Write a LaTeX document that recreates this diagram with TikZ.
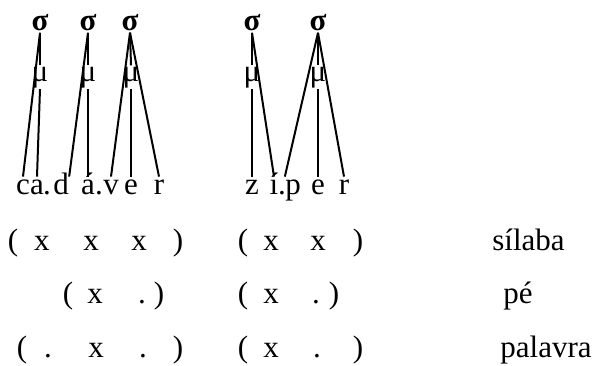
\documentclass[tikz,border=0pt]{standalone}
\usepackage{fontspec}
\setmainfont{Liberation Serif}
\newcommand{\diagfont}{\fontsize{15.5}{18}\selectfont}
\tikzset{
  sylNode/.style={font=\diagfont\bfseries, anchor=base, inner sep=1pt},
  moraNode/.style={anchor=base, inner sep=0.5pt},
  segNode/.style={anchor=base, inner sep=0pt, text height=0.85em, text depth=0.2em},
  gridMark/.style={anchor=base, inner sep=0pt},
  levelLabel/.style={anchor=base west, inner sep=0pt},
  assocLine/.style={line width=1pt}
}

\begin{document}
\begin{tikzpicture}[x=0.5pt,y=-0.5pt,font=\diagfont]
  \useasboundingbox (0,0) rectangle (600,365);
  % syllables and morae
  \foreach \n/\x in {1/40,2/88,3/130,4/252,5/318} {
    \node[sylNode] (sig\n) at (\x,30) {σ};
  }
  \foreach \n/\x in {1/40,2/88,3/131,4/252,5/318} {
    \node[moraNode] (mu\n) at (\x,81) {μ};
    \draw[assocLine] (sig\n.south) -- (mu\n.north);
  }
  % segments
  \node[segNode] (c) at (23,194) {c};
  \node[segNode] (a) at (37,194) {a};
  \node[segNode] (dot1) at (47,194) {.};
  \node[segNode] (d) at (61,194) {d};
  \node[segNode] (aa) at (88,194) {á};
  \node[segNode] (dot2) at (99,194) {.};
  \node[segNode] (v) at (111,194) {v};
  \node[segNode] (e) at (131,194) {e};
  \node[segNode] (r) at (159,194) {r};
  \node[segNode] (z) at (252,194) {z};
  \node[segNode] (ii) at (274,194) {í};
  \node[segNode] (dot3) at (282,194) {.};
  \node[segNode] (p) at (293,194) {p};
  \node[segNode] (ee) at (318,194) {e};
  \node[segNode] (rr) at (344,194) {r};
  \draw[assocLine] (sig1.south) -- (c.north);
  \draw[assocLine] (mu1.south) -- (a.north);
  \draw[assocLine] (sig2.south) -- (d.north east);
  \draw[assocLine] (mu2.south) -- (aa.north);
  \draw[assocLine] (sig3.south) -- (v.north);
  \draw[assocLine] (mu3.south) -- (e.north);
  \draw[assocLine] (sig3.south) -- (r.north);
  \draw[assocLine] (mu4.south) -- (z.north);
  \draw[assocLine] (sig4.south) -- (ii.north);
  \draw[assocLine] (sig5.south) -- (p.north west);
  \draw[assocLine] (mu5.south) -- (ee.north);
  \draw[assocLine] (sig5.south) -- (rr.north);
  % grid: syllable level
  \foreach \x [count=\i] in {13,243} {
    \node[gridMark] (sOpen\i) at (\x,250) {(};
  }
  \foreach \x [count=\i] in {178,358} {
    \node[gridMark] (sClose\i) at (\x,250) {)};
  }
  \foreach \x [count=\i] in {42,91,139,271,318} {
    \node[gridMark] (sMark\i) at (\x,250) {x};
  }
  \node[levelLabel] (sLabel) at (492,250) {sílaba};
  % grid: foot level
  \foreach \x [count=\i] in {68,243} {
    \node[gridMark] (fOpen\i) at (\x,303) {(};
  }
  \foreach \x [count=\i] in {159,334} {
    \node[gridMark] (fClose\i) at (\x,303) {)};
  }
  \foreach \x [count=\i] in {95,271} {
    \node[gridMark] (fMark\i) at (\x,303) {x};
  }
  \foreach \x [count=\i] in {142,316} {
    \node[gridMark] (fDot\i) at (\x,303) {.};
  }
  \node[levelLabel] (fLabel) at (503,303) {pé};
  % grid: word level
  \foreach \x [count=\i] in {22,243} {
    \node[gridMark] (wOpen\i) at (\x,357) {(};
  }
  \foreach \x [count=\i] in {178,358} {
    \node[gridMark] (wClose\i) at (\x,357) {)};
  }
  \foreach \x [count=\i] in {96,271} {
    \node[gridMark] (wMark\i) at (\x,357) {x};
  }
  \foreach \x [count=\i] in {48,143,317} {
    \node[gridMark] (wDot\i) at (\x,357) {.};
  }
  \node[levelLabel] (wLabel) at (500,357) {palavra};
\end{tikzpicture}
\end{document}
